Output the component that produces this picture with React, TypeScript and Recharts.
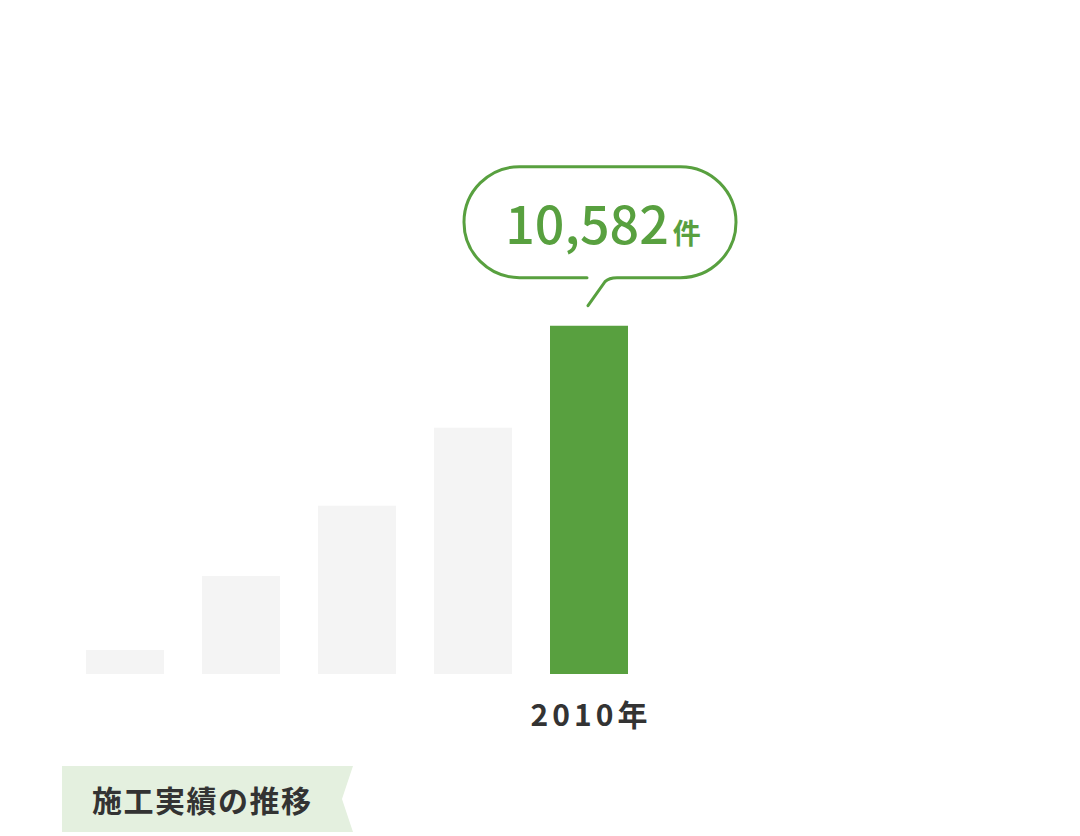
import { Bar, BarChart, Cell, LabelList, XAxis, YAxis } from "recharts";

const years = ["2006", "2007", "2008", "2009", "2010"];
const counts = [730, 2980, 5110, 7480, 10582];
const highlightYear = "2010";

const GREEN = "#58a03f";
const GRAY = "#f4f4f4";
const FONT = '"Noto Sans CJK JP", "Noto Sans", sans-serif';

const data = years.map((year, i) => ({ year, count: counts[i] }));

const renderYearTick = ({ x, y, payload }: any) => {
  if (payload.value !== highlightYear) return <g />;
  return (
    <text
      x={x + 2}
      y={y + 44}
      textAnchor="middle"
      fontFamily={FONT}
      fontWeight={700}
      fontSize={30}
      letterSpacing={4}
      fill="#333"
    >
      {payload.value}年
    </text>
  );
};

const renderBubble = ({ x, y, width, index, value }: any) => {
  if (years[index] !== highlightYear) return null;
  const cx = x + width / 2;
  const l = cx - 125;
  const rr = cx + 147;
  const t = y - 159;
  const b = y - 48;
  const r = 55.5;
  const d = [
    `M ${cx - 2} ${b}`,
    `L ${l + r} ${b}`,
    `A ${r} ${r} 0 0 1 ${l + r} ${t}`,
    `L ${rr - r} ${t}`,
    `A ${r} ${r} 0 0 1 ${rr - r} ${b}`,
    `L ${cx + 28} ${b}`,
    `Q ${cx + 20} ${b} ${cx + 16} ${b + 4}`,
    `L ${cx - 1} ${y - 20}`,
  ].join(" ");
  return (
    <g>
      <path d={d} fill="#fff" stroke={GREEN} strokeWidth={3} strokeLinecap="round" />
      <text x={cx + 14} y={y - 82} textAnchor="middle" fontFamily={FONT} fontWeight={500} fill={GREEN}>
        <tspan fontSize={52}>{Number(value).toLocaleString("en-US")}</tspan>
        <tspan fontSize={28} dx={4} fontWeight={700}>件</tspan>
      </text>
    </g>
  );
};

export default function App() {
  return (
    <div style={{ position: "absolute", left: 0, top: 0, width: 1080, height: 836, background: "#fff", overflow: "hidden" }}>
      <BarChart
        width={1080}
        height={836}
        data={data}
        margin={{ top: 279, right: 433, bottom: 102, left: 67 }}
        barCategoryGap={19}
      >
        <XAxis dataKey="year" height={60} axisLine={false} tickLine={false} tick={renderYearTick} interval={0} />
        <YAxis hide domain={[0, 12000]} />
        <Bar dataKey="count" barSize={78} isAnimationActive={false}>
          {data.map((d) => (
            <Cell key={d.year} fill={d.year === highlightYear ? GREEN : GRAY} />
          ))}
          <LabelList dataKey="count" content={renderBubble} />
        </Bar>
      </BarChart>
      <div
        style={{
          position: "absolute",
          left: 62,
          top: 766,
          width: 291,
          height: 66,
          background: "#e4f0df",
          clipPath: "polygon(0 0, 100% 0, 280px 50%, 100% 100%, 0 100%)",
          fontFamily: FONT,
          fontWeight: 700,
          fontSize: 30,
          letterSpacing: 1.5,
          color: "#333",
          lineHeight: "66px",
          paddingLeft: 30,
          boxSizing: "border-box",
        }}
      >
        施工実績の推移
      </div>
    </div>
  );
}
